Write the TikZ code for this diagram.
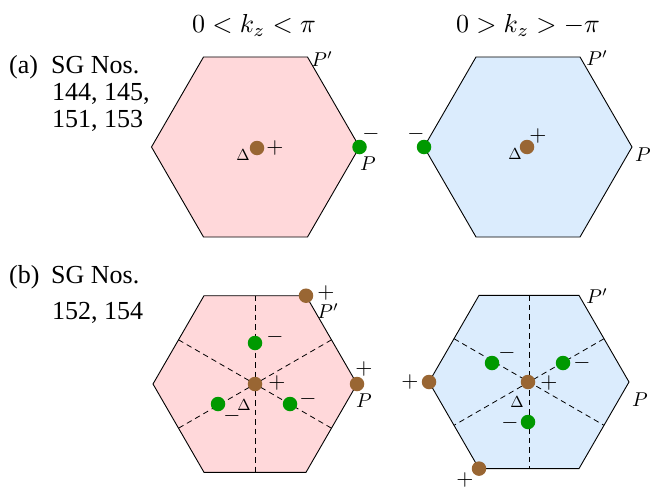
\documentclass[tikz,border=0pt]{standalone}
\usepackage{fontspec}
\newfontfamily\tmfont{Liberation Serif}
\definecolor{pinkc}{RGB}{255,216,218}
\definecolor{bluec}{RGB}{219,236,253}
\definecolor{brownc}{RGB}{153,102,51}
\definecolor{greenc}{RGB}{0,153,0}
\tikzset{
  hexline/.style={draw=black,line width=0.9pt,line join=miter},
  dashline/.style={draw=black,line width=0.8pt,dash pattern=on 5.5pt off 4pt},
  bdot/.style={circle,fill=brownc,inner sep=0pt,minimum size=14.5pt},
  gdot/.style={circle,fill=greenc,inner sep=0pt,minimum size=14.5pt},
  sgn/.style={inner sep=0pt,scale=2.2},
  plab/.style={inner sep=0pt,scale=2.0},
  dlab/.style={inner sep=0pt,scale=1.6},
  ttl/.style={inner sep=0pt,anchor=base,scale=2.6},
  lbl/.style={inner sep=0pt,anchor=base west,font=\tmfont\fontsize{26}{28}\selectfont},
}
\begin{document}
\begin{tikzpicture}[x=1pt,y=-1pt]
\useasboundingbox (0,0) rectangle (650,487);

% titles
\node[ttl] (t1) at (254,33) {$0<k_z<\pi$};
\node[ttl] (t2) at (528,33) {$0>k_z>-\pi$};

% left labels
\node[lbl] (la) at (9,74) {(a)};
\node[lbl] (la1) at (51,74) {SG Nos.};
\node[lbl] (la2) at (52,100) {144, 145,};
\node[lbl] (la3) at (52,127) {151, 153};
\node[lbl] (lb) at (9,283) {(b)};
\node[lbl] (lb1) at (51,283) {SG Nos.};
\node[lbl] (lb2) at (52,319) {152, 154};

% ---------- hexagon A (top-left) ----------
\coordinate (A0) at (359.5,147);
\coordinate (A1) at (307.5,57);
\coordinate (A2) at (203.5,57);
\coordinate (A3) at (151.5,147);
\coordinate (A4) at (203.5,237);
\coordinate (A5) at (307.5,237);
\path[hexline,fill=pinkc] (A0)--(A1)--(A2)--(A3)--(A4)--(A5)--cycle;

% ---------- hexagon B (top-right) ----------
\coordinate (B0) at (632,147);
\coordinate (B1) at (580,57);
\coordinate (B2) at (476,57);
\coordinate (B3) at (424,147);
\coordinate (B4) at (476,237);
\coordinate (B5) at (580,237);
\path[hexline,fill=bluec] (B0)--(B1)--(B2)--(B3)--(B4)--(B5)--cycle;

% ---------- hexagon C (bottom-left) ----------
\coordinate (C0) at (357,384);
\coordinate (C1) at (306,295.7);
\coordinate (C2) at (204,295.7);
\coordinate (C3) at (153,384);
\coordinate (C4) at (204,472.3);
\coordinate (C5) at (306,472.3);
\path[hexline,fill=pinkc] (C0)--(C1)--(C2)--(C3)--(C4)--(C5)--cycle;
\coordinate (Ct) at (255,295.7);
\coordinate (Cb) at (255,472.3);
\coordinate (Cul) at (178.5,339.8);
\coordinate (Clr) at (331.5,428.2);
\coordinate (Cur) at (331.5,339.8);
\coordinate (Cll) at (178.5,428.2);
\draw[dashline] (Ct)--(Cb);
\draw[dashline] (Cul)--(Clr);
\draw[dashline] (Cur)--(Cll);

% ---------- hexagon D (bottom-right) ----------
\coordinate (D0) at (629,382);
\coordinate (D1) at (579,295.4);
\coordinate (D2) at (479,295.4);
\coordinate (D3) at (429,382);
\coordinate (D4) at (479,468.6);
\coordinate (D5) at (579,468.6);
\path[hexline,fill=bluec] (D0)--(D1)--(D2)--(D3)--(D4)--(D5)--cycle;
\coordinate (Dt) at (529,295.4);
\coordinate (Db) at (529,468.6);
\coordinate (Dul) at (454,338.7);
\coordinate (Dlr) at (604,425.3);
\coordinate (Dur) at (604,338.7);
\coordinate (Dll) at (454,425.3);
\draw[dashline] (Dt)--(Db);
\draw[dashline] (Dul)--(Dlr);
\draw[dashline] (Dur)--(Dll);

% ---------- panel A points ----------
\node[bdot] (a0) at (257,148) {};
\node[dlab] (aD) at (243,155) {$\Delta$};
\node[sgn] (aP0) at (275,148) {$+$};
\node[gdot] (aG) at (A0) {};
\node[sgn] (aGs) at (371,134) {$-$};
\node[plab] (aP) at (368,164) {$P$};
\node[plab] (aPp) at (322,59) {$P'$};

% ---------- panel B points ----------
\node[gdot] (bG) at (B3) {};
\node[sgn] (bGs) at (416,134) {$-$};
\node[bdot] (b0) at (527,147) {};
\node[dlab] (bD) at (515,154) {$\Delta$};
\node[sgn] (bP0) at (538,136) {$+$};
\node[plab] (bP) at (643,155) {$P$};
\node[plab] (bPp) at (597,58) {$P'$};

% ---------- panel C points ----------
\node[bdot] (c0) at (255,384) {};
\node[sgn] (c0s) at (277,383) {$+$};
\node[dlab] (cD) at (244,405) {$\Delta$};
\node[bdot] (cPp) at (C1) {};
\node[sgn] (cPps) at (326,293) {$+$};
\node[plab] (cPpl) at (328,311) {$P'$};
\node[bdot] (cP) at (C0) {};
\node[sgn] (cPs) at (364,369) {$+$};
\node[plab] (cPl) at (364,401) {$P$};
\node[gdot] (cg1) at (255,343) {};
\node[sgn] (cg1s) at (275,337) {$-$};
\node[gdot] (cg2) at (218,404) {};
\node[sgn] (cg2s) at (232,416) {$-$};
\node[gdot] (cg3) at (290,404) {};
\node[sgn] (cg3s) at (308,399) {$-$};

% ---------- panel D points ----------
\node[bdot] (d0) at (528,382) {};
\node[sgn] (d0s) at (549,383) {$+$};
\node[dlab] (dD) at (517,402) {$\Delta$};
\node[gdot] (dg1) at (492,363) {};
\node[sgn] (dg1s) at (507,353) {$-$};
\node[gdot] (dg2) at (563,363) {};
\node[sgn] (dg2s) at (582,363) {$-$};
\node[gdot] (dg3) at (528,422) {};
\node[sgn] (dg3s) at (510,423) {$-$};
\node[bdot] (dL) at (D3) {};
\node[sgn] (dLs) at (410,382) {$+$};
\node[bdot] (dB) at (D4) {};
\node[sgn] (dBs) at (465,479.5) {$+$};
\node[plab] (dPp) at (597,296) {$P'$};
\node[plab] (dP) at (640,400) {$P$};
\end{tikzpicture}
\end{document}
